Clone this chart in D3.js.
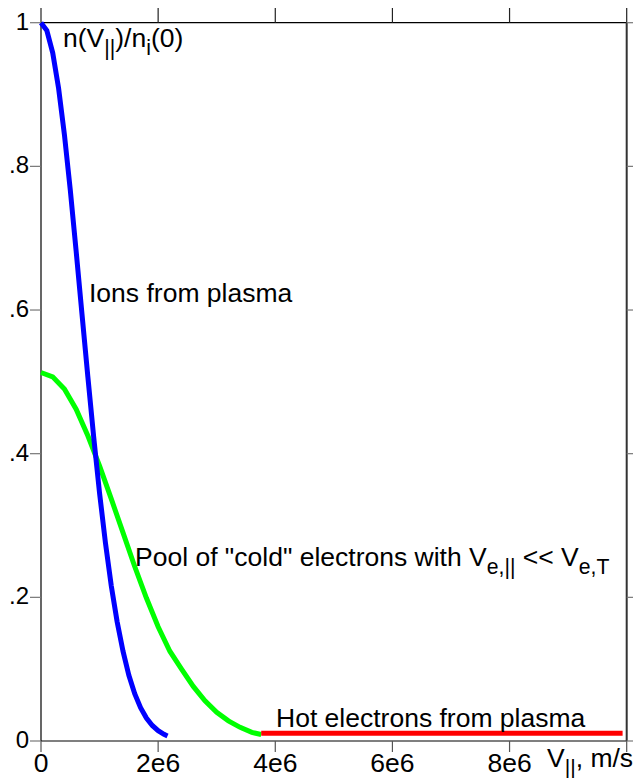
<!DOCTYPE html>
<html>
<head>
<meta charset="utf-8">
<script src="https://cdn.jsdelivr.net/npm/d3@7"></script>
<style>
  html, body { margin: 0; padding: 0; background: #fff; }
  svg { display: block; }
  text { font-family: "Liberation Sans", Arial, Helvetica, sans-serif; fill: #000; }
</style>
</head>
<body>
<svg id="chart" width="634" height="778"></svg>
<script>
// ---- data (velocity in 1e6 m/s, density normalised to n_i(0)) ----
const ionV = [0, 0.1, 0.2, 0.3, 0.4, 0.5, 0.6, 0.7, 0.8, 0.9, 1.0, 1.1, 1.2, 1.3, 1.4, 1.5, 1.6, 1.7, 1.8, 1.9, 2.0, 2.1, 2.16];
const ionN = [1.000, 0.989, 0.958, 0.909, 0.844, 0.767, 0.682, 0.594, 0.507, 0.423, 0.345, 0.276, 0.216, 0.166, 0.125, 0.0915, 0.0658, 0.0464, 0.0320, 0.0216, 0.0143, 0.0092, 0.007];
const coldV = [0, 0.2, 0.4, 0.6, 0.8, 1.0, 1.2, 1.4, 1.6, 1.8, 2.0, 2.2, 2.4, 2.6, 2.8, 3.0, 3.2, 3.4, 3.6, 3.76];
const coldN = [0.513, 0.507, 0.490, 0.462, 0.425, 0.383, 0.337, 0.290, 0.243, 0.199, 0.159, 0.125, 0.100, 0.076, 0.056, 0.040, 0.028, 0.019, 0.012, 0.009];
const hotV = [3.76, 9.93];
const hotN = [0.0107, 0.0107];
const xTicks = [0, 2, 4, 6, 8, 10];
const xTickLabels = ["0", "2e6", "4e6", "6e6", "8e6", ""];
const yTicks = [0, 0.2, 0.4, 0.6, 0.8, 1.0];
const yTickLabels = ["0", ".2", ".4", ".6", ".8", "1"];

const svg = d3.select("#chart");
const x = d3.scaleLinear().domain([0, 10]).range([41, 626.7]);
const y = d3.scaleLinear().domain([0, 1]).range([741, 22.7]);
const FS = 26.5;

// frame
const frame = svg.append("g");
frame.append("line").attr("x1", x(0)).attr("x2", x(10)).attr("y1", y(1)).attr("y2", y(1)).attr("stroke", "#000").attr("stroke-width", 1.2);
frame.append("line").attr("x1", x(0)).attr("x2", x(10)).attr("y1", y(0)).attr("y2", y(0)).attr("stroke", "#000").attr("stroke-width", 1.2);
frame.append("line").attr("x1", x(0)).attr("x2", x(0)).attr("y1", y(1)).attr("y2", y(0)).attr("stroke", "#000").attr("stroke-width", 1.2);
frame.append("line").attr("x1", x(10)).attr("x2", x(10)).attr("y1", y(1)).attr("y2", y(0)).attr("stroke", "#333").attr("stroke-width", 2);

// x ticks (top up, bottom down)
const xa = svg.append("g");
xTicks.forEach((t, i) => {
  xa.append("line").attr("x1", x(t)).attr("x2", x(t)).attr("y1", y(1)).attr("y2", 8).attr("stroke", "#222").attr("stroke-width", 1.2);
  xa.append("line").attr("x1", x(t)).attr("x2", x(t)).attr("y1", y(0)).attr("y2", 752).attr("stroke", "#555").attr("stroke-width", 1.2);
  if (xTickLabels[i]) {
    xa.append("text").attr("x", x(t)).attr("y", 771.5).attr("text-anchor", "middle").attr("font-size", FS).text(xTickLabels[i]);
  }
});

// y ticks (left and right, outward)
const ya = svg.append("g");
yTicks.forEach((t, i) => {
  ya.append("line").attr("x1", 30).attr("x2", x(0)).attr("y1", y(t)).attr("y2", y(t)).attr("stroke", "#777").attr("stroke-width", 1.2);
  ya.append("line").attr("x1", x(10)).attr("x2", 633).attr("y1", y(t)).attr("y2", y(t)).attr("stroke", "#777").attr("stroke-width", 1.2);
  ya.append("text").attr("x", 29).attr("y", y(t) + 7).attr("text-anchor", "end").attr("font-size", 24).text(yTickLabels[i]);
});

// curves
const line = d3.line().x(d => x(d[0])).y(d => y(d[1]));
function series(vs, ns) { return vs.map((v, i) => [v, ns[i]]); }
svg.append("path").datum(series(coldV, coldN)).attr("d", line).attr("fill", "none").attr("stroke", "#00ff00").attr("stroke-width", 5);
svg.append("path").datum(series(ionV, ionN)).attr("d", line).attr("fill", "none").attr("stroke", "#0000ff").attr("stroke-width", 5);
svg.append("path").datum(series(hotV, hotN)).attr("d", line).attr("fill", "none").attr("stroke", "#ff0000").attr("stroke-width", 5);

// labels
function richText(xp, yp, parts, size) {
  const t = svg.append("text").attr("x", xp).attr("y", yp).attr("font-size", size);
  parts.forEach(p => {
    const s = t.append("tspan").text(p.t);
    if (p.sub) { s.attr("font-size", size * 0.8).attr("dy", 8); }
    if (p.up) { s.attr("dy", -8); }
  });
  return t;
}
richText(63, 46.7, [{t: "n(V"}, {t: "||", sub: true}, {t: ")/n", up: true}, {t: "i", sub: true}, {t: "(0)", up: true}], FS);
richText(89, 301.7, [{t: "Ions from plasma"}], FS);
richText(135, 566, [{t: "Pool of \"cold\" electrons with V"}, {t: "e,||", sub: true}, {t: " << V", up: true}, {t: "e,T", sub: true}], FS);
richText(276, 726.7, [{t: "Hot electrons from plasma"}], FS);
richText(547, 766.7, [{t: "V"}, {t: "||", sub: true}, {t: ", m/s", up: true}], FS);
</script>
</body>
</html>
